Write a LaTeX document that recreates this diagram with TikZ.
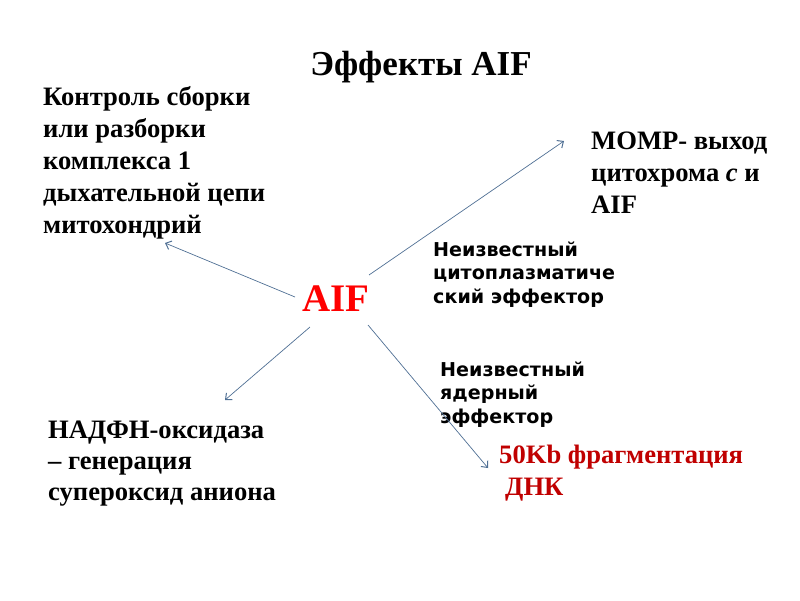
\documentclass[tikz,border=0pt]{standalone}
\usepackage{fontspec}
\setmainfont{Liberation Serif}
\newfontfamily\sansfnt{DejaVu Sans}
\usetikzlibrary{arrows.meta}
\definecolor{arrowblue}{HTML}{4F6F94}
\definecolor{darkred}{HTML}{C00000}
\tikzset{
  sertxt/.style={anchor=base west, inner sep=0pt, align=left, font=\bfseries\fontsize{26.6}{32}\selectfont},
  santxt/.style={anchor=base west, inner sep=0pt, align=left, font=\sansfnt\bfseries\fontsize{19.1}{23.3}\selectfont},
  conn/.style={draw=arrowblue, line width=0.7pt, -{Straight Barb[length=5pt,width=9pt,line width=1pt]}}
}
\begin{document}
\begin{tikzpicture}[x=1pt,y=-1pt]
\useasboundingbox (0,0) rectangle (800,600);
% base anchor of a multi-line node = baseline of its last line
\node[anchor=base, inner sep=0pt, font=\bfseries\fontsize{35}{40}\selectfont] (title) at (421,75) {Эффекты AIF};
\node[sertxt] (ctrl) at (43,233) {Контроль сборки\\или разборки\\комплекса 1\\дыхательной цепи\\митохондрий};
\node[sertxt] (momp) at (591,213) {MOMP- выход\\цитохрома \textit{c} и\\AIF};
\node[santxt] (cyto) at (433,303) {Неизвестный\\цитоплазматиче\\ский эффектор};
\node[santxt] (nucl) at (440,423) {Неизвестный\\ядерный\\эффектор};
\node[sertxt, text=darkred] (frag) at (499,495) {50Kb фрагментация\\\hspace{6pt}ДНК};
\node[sertxt, font=\bfseries\fontsize{26.6}{31}\selectfont] (nadph) at (48,500) {НАДФН-оксидаза\\– генерация\\супероксид аниона};
\node[anchor=base west, inner sep=0pt, text=red, font=\bfseries\fontsize{39}{44}\selectfont] (aif) at (302,311) {AIF};
\coordinate (s1) at (295,297);
\coordinate (e1) at (165,243);
\coordinate (s2) at (369,275);
\coordinate (e2) at (564,141);
\coordinate (s3) at (310,327);
\coordinate (e3) at (225,400);
\coordinate (s4) at (368,325);
\coordinate (e4) at (488,468);
\draw[conn] (s1) -- (e1);
\draw[conn] (s2) -- (e2);
\draw[conn] (s3) -- (e3);
\draw[conn] (s4) -- (e4);
\end{tikzpicture}
\end{document}
